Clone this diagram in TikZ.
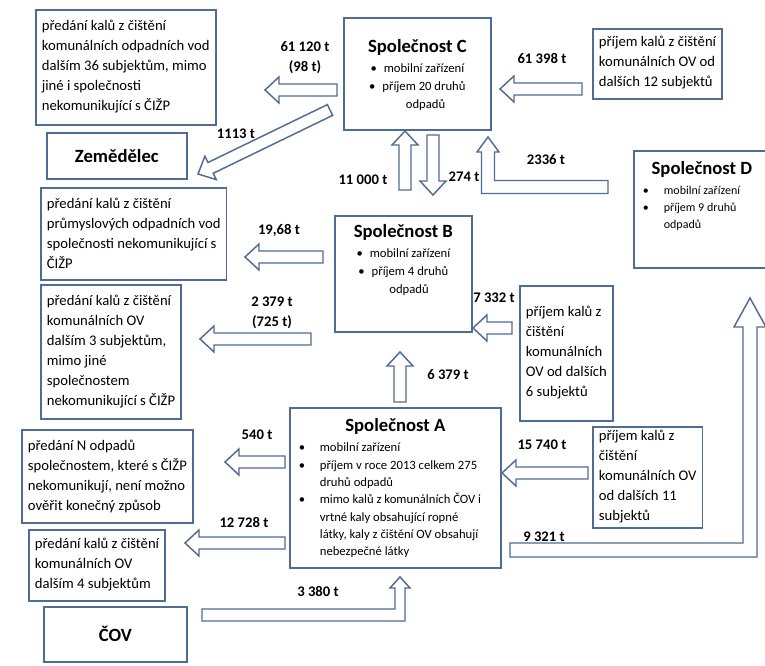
\documentclass[tikz,border=0pt]{standalone}
\usepackage{fontspec}
\setmainfont{Carlito}
\usetikzlibrary{calc}
\definecolor{rim}{RGB}{79,108,150}
\newdimen\pxu \pxu=0.75pt
\newcommand{\bodyfont}{\fontsize{11}{15}\selectfont}
\newcommand{\titlefont}{\fontsize{14}{17}\selectfont\bfseries}
\newcommand{\bulletfont}{\fontsize{9.5}{13.5}\selectfont}
\newcommand{\boxtext}[4][10]{\parbox[t][#3\pxu][t]{\dimexpr#2\pxu-12\pxu\relax}{\vspace*{#1\pxu}#4}}
\newcommand{\tline}[1]{\hbox{#1}}
\newcommand{\bitem}[1]{\hbox{\hbox to 24\pxu{\hskip3\pxu\textbullet\hss}#1}}
\newcommand{\bcont}[1]{\hbox{\hskip24\pxu #1}}
\newcommand{\flowarrow}[2]{%
  \path ($(#2)!10.5pt!(#1)$) coordinate (hb);
  \draw[flow] ($(#1)!4.5pt!90:(#2)$) -- ($(hb)!4.5pt!90:(#2)$) -- ($(hb)!9.75pt!90:(#2)$)
    -- (#2) -- ($(hb)!9.75pt!-90:(#2)$) -- ($(hb)!4.5pt!-90:(#2)$) -- ($(#1)!4.5pt!-90:(#2)$) -- cycle;}

\begin{document}
\begin{tikzpicture}[x=0.75pt,y=-0.75pt,
  box/.style={draw=rim,line width=1.3pt,anchor=north west,inner xsep=4.5pt,inner ysep=0pt,font=\bodyfont},
  namebox/.style={draw=rim,line width=1.3pt,anchor=north west,font=\titlefont},
  amount/.style={font=\bodyfont\bfseries,inner sep=0pt,align=center},
  flow/.style={draw=rim,line width=1.1pt,fill=white,line join=miter}]
\useasboundingbox (0,0) rectangle (765,666);
\clip (0,0) rectangle (765,666);

\node[box] (send36) at (35,9) {\boxtext{191}{115}{\tline{předání kalů z čištění}\tline{komunálních odpadních vod}\tline{dalším 36 subjektům, mimo}\tline{jiné i společnosti}\tline{nekomunikující s ČIŽP}}};
\node[namebox,minimum width=105pt,minimum height=34.5pt] (farmer) at (46,132) {Zemědělec};
\node[box] (compC) at (343,17) {\boxtext[22]{147}{112}{\bulletfont\centerline{\titlefont Společnost C}\vskip1pt
  \centerline{\textbullet\hspace{.55em}mobilní zařízení}\centerline{\textbullet\hspace{.55em}příjem 20 druhů}\centerline{\hspace*{1.3em}odpadů}}};
\node[box] (recv12) at (592,28) {\boxtext[7.4]{175}{70}{\tline{příjem kalů z čištění}\tline{komunálních OV od}\tline{dalších 12 subjektů}}};
\node[box] (compD) at (633,150) {\boxtext[11]{136}{117}{\fontsize{9}{12.5}\selectfont\centerline{\titlefont Společnost D}\vskip2.4pt
  \bitem{mobilní zařízení}\bitem{příjem 9 druhů}\bcont{odpadů}}};
\node[box] (sendprum) at (40,187) {\boxtext{195}{92}{\tline{předání kalů z čištění}\tline{průmyslových odpadních vod}\tline{společnosti nekomunikující s}\tline{ČIŽP}}};
\node[box] (compB) at (334,215) {\boxtext[9]{137}{116}{\bulletfont\centerline{\titlefont Společnost B}\vskip1pt
  \centerline{\textbullet\hspace{.55em}mobilní zařízení}\centerline{\textbullet\hspace{.55em}příjem 4 druhů}\centerline{\hspace*{0.9em}odpadů}}};
\node[box] (send3) at (40,284) {\boxtext{149}{134}{\tline{předání kalů z čištění}\tline{komunálních OV}\tline{dalším 3 subjektům,}\tline{mimo jiné}\tline{společnostem}\tline{nekomunikující s ČIŽP}}};
\node[box] (recv6) at (519,285) {\boxtext[20.4]{105}{135}{\tline{příjem kalů z}\tline{čištění}\tline{komunálních}\tline{OV od dalších}\tline{6 subjektů}}};
\node[box] (compA) at (289,407) {\boxtext[11]{211}{160}{\fontsize{9.5}{13}\selectfont\centerline{\titlefont Společnost A}\vskip2pt
  \bitem{mobilní zařízení}\bitem{příjem v roce 2013 celkem 275}\bcont{druhů odpadů}\bitem{mimo kalů z komunálních ČOV i}\bcont{vrtné kaly obsahující ropné}\bcont{látky, kaly z čištění OV obsahují}\bcont{nebezpečné látky}}};
\node[box] (recv11) at (592,426) {\boxtext[3.4]{130}{101}{\tline{příjem kalů z}\tline{čištění}\tline{komunálních OV}\tline{od dalších 11}\tline{subjektů}}};
\node[box] (sendN) at (21,429) {\boxtext{192}{93}{\tline{předání N odpadů}\tline{společnostem, které s ČIŽP}\tline{nekomunikují, není možno}\tline{ověřit konečný způsob}}};
\node[box] (send4) at (28,529) {\boxtext[8.4]{150}{71}{\tline{předání kalů z čištění}\tline{komunálních OV}\tline{dalším 4 subjektům}}};
\node[namebox,minimum width=107.25pt,minimum height=41.25pt] (cov) at (43,606) {ČOV};

\coordinate (from61120) at (337,90); \coordinate (to61120) at (265,90);
\coordinate (from1113) at (330,110); \coordinate (to1113) at (198,174);
\coordinate (from61398) at (582,89); \coordinate (to61398) at (500,89);
\coordinate (from11000) at (405,190); \coordinate (to11000) at (405,131);
\coordinate (from274) at (433,135); \coordinate (to274) at (433,195);
\coordinate (from1968) at (323,257); \coordinate (to1968) at (245,257);
\coordinate (from2379) at (311,339); \coordinate (to2379) at (200,339);
\coordinate (from7332) at (512,328); \coordinate (to7332) at (473,328);
\coordinate (from6379) at (400,402); \coordinate (to6379) at (400,352);
\coordinate (from15740) at (588,473); \coordinate (to15740) at (502,473);
\coordinate (from540) at (285,462); \coordinate (to540) at (225,462);
\coordinate (from12728) at (285,543); \coordinate (to12728) at (185,543);
\foreach \q in {61120,1113,61398,11000,274,1968,2379,7332,6379,15740,540,12728}
  {\flowarrow{from\q}{to\q}}

\coordinate (from2336) at (608,187); \coordinate (bend2336) at (488,187); \coordinate (to2336) at (488,137);
\draw[flow] ([shift={(0,-6.5)}]from2336) -- ([shift={(6.5,-6.5)}]bend2336) -- ([shift={(6.5,15)}]to2336)
  -- ([shift={(11,15)}]to2336) -- (to2336) -- ([shift={(-11,15)}]to2336) -- ([shift={(-6.5,15)}]to2336)
  -- ([shift={(-6.5,6.5)}]bend2336) -- ([shift={(0,6.5)}]from2336) -- cycle;
\coordinate (from9321) at (510,550); \coordinate (bend9321) at (750,550); \coordinate (to9321) at (750,298);
\draw[flow] ([shift={(0,-7)}]from9321) -- ([shift={(-7,-7)}]bend9321) -- ([shift={(-7,29)}]to9321)
  -- ([shift={(-16,29)}]to9321) -- (to9321) -- ([shift={(16,29)}]to9321) -- ([shift={(7,29)}]to9321)
  -- ([shift={(7,7)}]bend9321) -- ([shift={(0,7)}]from9321) -- cycle;
\coordinate (from3380) at (202,615); \coordinate (bend3380) at (400,615); \coordinate (to3380) at (400,577);
\draw[flow] ([shift={(0,-6)}]from3380) -- ([shift={(-5,-6)}]bend3380) -- ([shift={(-5,11)}]to3380)
  -- ([shift={(-10,11)}]to3380) -- (to3380) -- ([shift={(10,11)}]to3380) -- ([shift={(5,11)}]to3380)
  -- ([shift={(5,6)}]bend3380) -- ([shift={(0,6)}]from3380) -- cycle;

\node[amount] (q61120) at (305,58) {61 120 t\\(98 t)};
\node[amount] (q1113) at (236,134) {1113 t};
\node[amount] (q61398) at (542,58) {61 398 t};
\node[amount] (q11000) at (363,180) {11 000 t};
\node[amount] (q274) at (464,177) {274 t};
\node[amount] (q2336) at (546,160) {2336 t};
\node[amount] (q1968) at (279,230) {19,68 t};
\node[amount] (q2379) at (272,313) {2 379 t\\(725 t)};
\node[amount] (q7332) at (494,298) {7 332 t};
\node[amount] (q6379) at (448,375) {6 379 t};
\node[amount] (q540) at (257,435) {540 t};
\node[amount] (q12728) at (244,522) {12 728 t};
\node[amount] (q15740) at (542,445) {15 740 t};
\node[amount] (q9321) at (544,537) {9 321 t};
\node[amount] (q3380) at (318,591) {3 380 t};
\end{tikzpicture}
\end{document}
